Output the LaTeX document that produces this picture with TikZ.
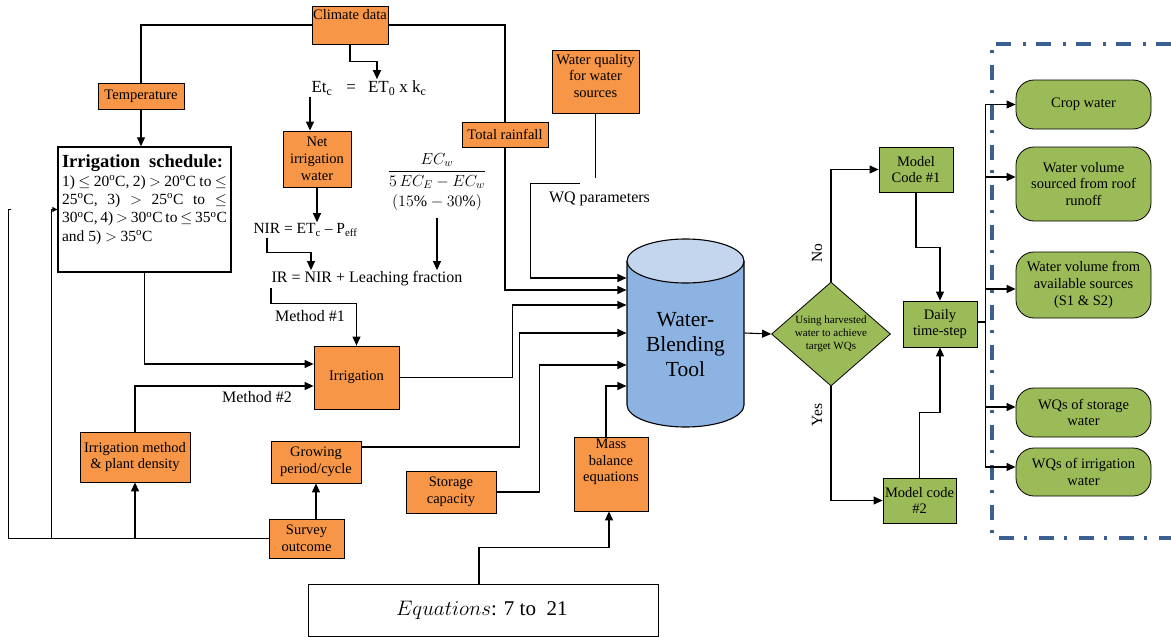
\documentclass[tikz,border=0pt]{standalone}
\usepackage{fix-cm}
\usepackage{fontspec}
\setmainfont{Liberation Serif}
\usepackage{xcolor}
\usepackage{tikz}
\usetikzlibrary{arrows.meta, shapes.geometric, positioning}

\definecolor{orng}{HTML}{F79646}
\definecolor{grn}{HTML}{9BBB59}
\definecolor{tankbody}{HTML}{8DB3E2}
\definecolor{tanktop}{HTML}{C3D6EE}
\definecolor{frameblue}{HTML}{3C5F91}

\begin{document}
\begin{tikzpicture}[x=1pt, y=-1pt, line width=1.1pt,
        >={Triangle[length=9pt,width=8pt]},
        obox/.style={draw, line width=0.8pt, fill=orng, align=center, inner sep=1pt,
            font=\fontsize{14.5}{16.7}\selectfont},
        gbox/.style={obox, fill=grn},
        outbox/.style={gbox, rounded corners=18pt, minimum width=135pt},
        lbl/.style={inner sep=1pt, font=\fontsize{16}{19}\selectfont}]
    \useasboundingbox (0,0) rectangle (1171,637);

    	\node[obox, minimum width=76pt, minimum height=38pt] (clim) at (350,25)
    	    {\parbox[c][34pt][t]{74pt}{\centering\vspace*{1pt}Climate data}};
    	\node[obox, minimum width=86pt, minimum height=26pt] (temp) at (141,96) {Temperature};
    	\node[draw, line width=1.4pt, fill=white, inner xsep=4pt, inner ysep=3pt] (sched) at (144.5,209.5)
    	    {\parbox[c][119pt][t]{165pt}{\vspace*{5pt}\fontsize{15.5}{18.3}\selectfont
    	    {\fontsize{18.5}{21}\selectfont\bfseries Irrigation\hspace{9pt}schedule:}\\
    	    \makebox[165pt][s]{1) $\le$ 20\textsuperscript{o}C, 2) $>$ 20\textsuperscript{o}C to $\le$}\\
    	    \makebox[165pt][s]{25\textsuperscript{o}C, 3) $>$ 25\textsuperscript{o}C to $\le$}\\
    	    \makebox[165pt][s]{30\textsuperscript{o}C, 4) $>$ 30\textsuperscript{o}C to $\le$ 35\textsuperscript{o}C}\\
    	    and 5) $>$ 35\textsuperscript{o}C}};
    	\node[lbl, anchor=west, font=\fontsize{17}{20}\selectfont] (eq1) at (310,88)
    	    {Et\textsubscript{c}\hspace{14pt}=\hspace{12pt}ET\textsubscript{0} x k\textsubscript{c}};
    	\node[obox, minimum width=68pt, minimum height=56pt] (net) at (317,159) {Net\\irrigation\\water};
    	\node[lbl, anchor=west, font=\fontsize{15.5}{18}\selectfont] (nir) at (252,230)
    	    {NIR = ET\textsubscript{c} -- P\textsubscript{eff}};
    	\node[lbl, anchor=west] (ir) at (270,279) {IR = NIR + Leaching fraction};
    	\node[lbl, align=center] (lf) at (437,182)
    	    {$\displaystyle\frac{EC_w}{5\,EC_E - EC_w}$\\[5pt]$(15\%-30\%)$};
    	\node[lbl] (m1) at (310,316) {Method \#1};
    	\node[obox, minimum width=86pt, minimum height=25pt] (rain) at (505,134.5) {Total rainfall};
    	\node[obox, minimum width=87pt, minimum height=63pt] (wq) at (595.5,81.5)
    	    {\parbox[c][59pt][t]{85pt}{\centering\vspace*{2pt}Water quality\\for water\\sources}};
    	\node[lbl] (wqp) at (599.5,199) {WQ parameters};

    	\node[obox, minimum width=85pt, minimum height=63pt] (irr) at (356.5,377.5) {Irrigation};
    	\node[lbl] (m2) at (257,397) {Method \#2};
    	\node[obox, minimum width=110pt, minimum height=50pt] (imeth) at (135,457) {Irrigation method\\\& plant density};
    	\node[obox, minimum width=90pt, minimum height=42pt] (grow) at (316,462) {Growing\\period/cycle};
    	\node[obox, minimum width=75pt, minimum height=39pt] (survey) at (306.5,538.5) {Survey\\outcome};
    	\node[obox, minimum width=90pt, minimum height=42pt] (store) at (451,492) {Storage\\capacity};
    	\node[obox, minimum width=74pt, minimum height=74pt] (mass) at (611,474)
    	    {\parbox[c][70pt][t]{72pt}{\centering Mass\\balance\\equations}};
    	\node[draw, line width=0.8pt, minimum width=350pt, minimum height=52pt, inner sep=0pt] (eqs) at (483,610)
    	    {\parbox{350pt}{\hspace*{88pt}\fontsize{21}{24}\selectfont$Equations$: 7 to~ 21}};

    % tank
    	\draw[fill=tankbody] (627,261) -- (627,405)
    	    arc[start angle=180, end angle=360, x radius=58.5pt, y radius=22pt] -- (744,261);
    	\draw[fill=tanktop] (685.5,261) ellipse[x radius=58.5pt, y radius=22pt];
    	\node[inner sep=0pt, minimum width=117pt, minimum height=188pt, font=\fontsize{21.5}{25}\selectfont] (wbt) at (685.5,333)
    	    {\parbox[c][164pt][c]{117pt}{\centering\vspace*{24pt}Water-\\Blending\\Tool}};

    	\node[diamond, draw, line width=0.8pt, fill=grn, aspect=1.14, inner sep=0pt, minimum width=119pt,
    	    minimum height=104pt, align=center, font=\fontsize{11}{13.3}\selectfont] (dia) at (831,334)
    	    {Using harvested\\water to achieve\\target WQs};
    	\node[lbl, rotate=90, font=\fontsize{15.5}{18}\selectfont] (no) at (817,253) {No};
    	\node[lbl, rotate=90, font=\fontsize{15.5}{18}\selectfont] (yes) at (817,415) {Yes};
    	\node[gbox, minimum width=74pt, minimum height=45pt] (mc1) at (916,169.5) {Model\\Code \#1};
    	\node[gbox, minimum width=73pt, minimum height=45pt] (mc2) at (919.5,500.5) {Model code\\\#2};
    	\node[gbox, minimum width=74pt, minimum height=46pt] (daily) at (940,324) {Daily\\time-step};

    	\node[outbox, minimum height=49pt] (o1) at (1083.5,104.5) {Crop water};
    	\node[outbox, minimum height=74pt] (o2) at (1083.5,184) {Water volume\\sourced from roof\\runoff};
    	\node[outbox, minimum height=66pt] (o3) at (1083.5,285) {Water volume from\\available sources\\(S1 \& S2)};
    	\node[outbox, minimum height=49pt] (o4) at (1083.5,412.5) {WQs of storage\\water};
    	\node[outbox, minimum height=48pt] (o5) at (1083.5,472) {WQs of irrigation\\water};

    	\draw[frameblue, line width=3.3pt, dash pattern=on 15pt off 10pt on 3pt off 12pt]
    	    (1171,44) -- (992,44) -- (992,538) -- (1171,538);

    % left part
    	\draw (clim.west) -| (temp.north);
    	\draw[->] (temp.south) -- (sched.north -| temp.south);
    	\draw[->] (clim.south) -- ++(0,17) -| ([xshift=67pt]eq1.north west);
    	\draw[->] (eq1.south west) -- (eq1.south west |- net.north);
    	\draw[->] (net.south) -- (net.south |- nir.north);
    	\draw[->] ([xshift=15pt]nir.south west) -- ++(0,15) -| ([xshift=41pt]ir.north west);
    	\draw[->] ([yshift=-6pt]lf.south) -- (lf.south |- ir.north);
    	\draw[->] ([xshift=1pt]ir.south west) -- ++(0,16) -| (irr.north);
    	\draw[->] (sched.south) |- ([yshift=13.5pt]irr.west);
    	\draw[->] (imeth.north) |- ([yshift=-8.5pt]irr.west);
    	\draw[->] (survey.north -| grow.south) -- (grow.south);
    	\draw (survey.west) -| ([xshift=-49pt]sched.west) -- ++(3,0);
    	\draw[->] (imeth.south |- survey.west) -- (imeth.south);
    	\draw[-{Triangle[length=5pt,width=5pt]}] ([xshift=-6pt]sched.west |- survey.west) |- (sched.west);
    %	\draw[->] (survey.west) -- (imeth.south);

    % into the tank
    	\draw (clim.east) -| (rain.north);
    	\draw[->] (rain.south) |- ([yshift=43pt]wbt.west);
    	\draw (wq.south) -- ++(0,65);
    	\draw[->] ([shift={(-20pt,7pt)}]wqp.north) -| ([xshift=-96pt,yshift=55pt]wbt.west) -- ([yshift=55pt]wbt.west);
    	\draw[->] (irr.east) -- ++(113,0) |- ([yshift=28pt]wbt.west);
    	\draw[->] ([yshift=15pt]grow.east) -- ++(158,0) |- (wbt.west);
    	\draw[->] (store.east) -- ++(43,0) |- ([yshift=-32pt]wbt.west);
    	\draw[->] ([xshift=-5pt]mass.north) |- ([yshift=-53pt]wbt.west);
    	\draw[->] ([xshift=-4pt]eqs.north) -- ++(0,-36) -| ([xshift=-2pt]mass.south);

    % right part
    	\draw[->] (wbt.east) -- (dia.west);
    	\draw[->] (dia.north) |- (mc1.west);
    	\draw[->] (dia.south) |- (mc2.west);
    	\draw[->] (mc1.south) -- ++(0,55) -| (daily.north);
    	\draw[->] (mc2.north) -- ++(0,-65) -| (daily.south);
    	\foreach \o/\s in {o1/0, o2/7, o3/-4, o4/5.5, o5/5}
    	    \draw[->] ([yshift=2pt]daily.east) -- ++(8,0) |- ([yshift=\s pt]\o.west);

    \end{tikzpicture}
\end{document}
